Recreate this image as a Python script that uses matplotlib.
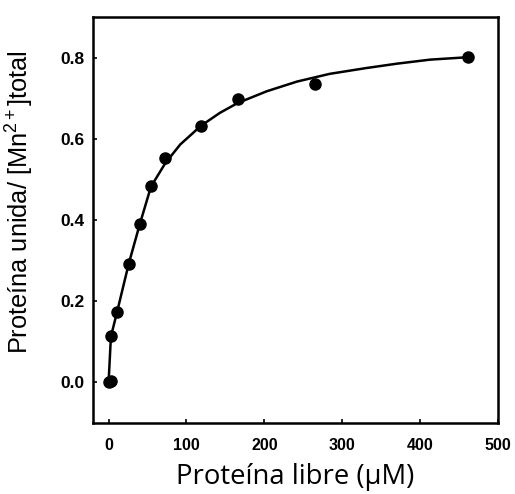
import matplotlib
matplotlib.use("Agg")
import matplotlib.pyplot as plt

plt.rcParams["mathtext.fontset"] = "custom"
plt.rcParams["mathtext.rm"] = "Liberation Sans"
plt.rcParams["mathtext.it"] = "Liberation Sans:italic"
plt.rcParams["mathtext.bf"] = "Liberation Sans:bold"

# Measured binding data: free protein (µM) vs. bound fraction
free_protein = [0, 3, 3.4, 11, 26, 40, 54.7, 73, 118.8, 165.8, 264.5, 462]
bound_fraction = [0.0, 0.003, 0.114, 0.173, 0.292, 0.389, 0.483, 0.552, 0.631, 0.699, 0.736, 0.801]

# Fitted saturation curve
fit_x = [0, 3, 10.7, 25.7, 39.8, 54.4, 72.8, 92, 118.6, 143, 165.6, 203, 242, 284, 330, 370, 413, 462]
fit_y = [0.0, 0.113, 0.172, 0.291, 0.388, 0.482, 0.540, 0.586, 0.632, 0.664, 0.688, 0.717, 0.741, 0.760, 0.774, 0.785, 0.795, 0.801]

x_ticks = [0, 100, 200, 300, 400, 500]
y_ticks = [0.0, 0.2, 0.4, 0.6, 0.8]

fig = plt.figure(figsize=(5.15, 4.94), dpi=100)
ax = fig.add_axes([0.1806, 0.1437, 0.7864, 0.8219])

ax.plot(fit_x, fit_y, color="black", lw=1.8, zorder=2)
ax.plot(free_protein, bound_fraction, "o", color="black", ms=8, zorder=3)

ax.set_xlim(-20, 500)
ax.set_ylim(-0.1, 0.9)
ax.set_xticks(x_ticks)
ax.set_yticks(y_ticks)
ax.set_xticklabels([str(v) for v in x_ticks],
                   fontfamily="Liberation Sans", fontweight="bold", fontsize=11.5)
ax.set_yticklabels([f"{v:.1f}" for v in y_ticks],
                   fontfamily="Liberation Sans", fontweight="bold", fontsize=12.5)

for s in ax.spines.values():
    s.set_linewidth(1.8)
ax.tick_params(direction="in", length=3, width=1.2)
ax.tick_params(axis="y", pad=6)
ax.tick_params(axis="x", pad=11)

ax.set_xlabel("Proteína libre (μM)", fontfamily="Open Sans", fontsize=19.8, labelpad=7)
ax.set_ylabel("Proteína unida/ [Mn$^{2+}$]total", fontfamily="Liberation Sans",
              fontsize=18.3)
ax.yaxis.set_label_coords(-0.14, 0.544)

fig.savefig("out.png", dpi=100)
